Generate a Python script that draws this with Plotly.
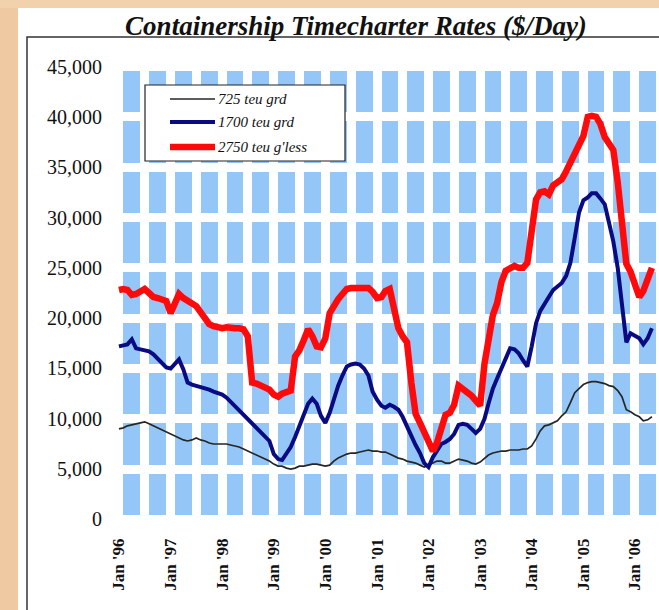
import pandas as pd
import plotly.graph_objects as go

# Monthly timecharter rates, Jan 1996 - May 2006 ($/day)
months = pd.date_range("1996-01-01", periods=125, freq="MS")

rate_725_grd = [
    9000, 9100, 9300, 9400, 9500, 9600, 9700, 9500, 9300, 9100, 8900, 8700,
    8500, 8300, 8100, 7900, 7800, 7900, 8100, 7900, 7800, 7600, 7500, 7500,
    7500, 7500, 7400, 7300, 7200, 7000, 6800, 6600, 6400, 6200, 6000, 5800,
    5500, 5300, 5300, 5100, 5000, 5100, 5300, 5300, 5400, 5500, 5500, 5400,
    5300, 5400, 5800, 6100, 6300, 6500, 6600, 6600, 6700, 6800, 6900, 6800,
    6800, 6700, 6700, 6500, 6300, 6100, 6000, 5800, 5700, 5600, 5400, 5200,
    5400, 5600, 5800, 5800, 5600, 5600, 5800, 6000, 5900, 5800, 5600, 5500,
    5700, 6100, 6400, 6600, 6700, 6800, 6800, 6900, 6900, 6900, 7000, 7000,
    7300, 8000, 8800, 9300, 9400, 9600, 9800, 10300, 10700, 11600, 12600, 13000,
    13400, 13600, 13700, 13700, 13600, 13500, 13300, 13200, 12800, 12200, 10900, 10700,
    10400, 10200, 9800, 9900, 10200,
]

rate_1700_grd = [
    17200, 17300, 17400, 17900, 17000, 16900, 16800, 16700, 16400, 16000, 15600, 15100,
    15000, 15500, 15900, 14900, 13600, 13400, 13300, 13200, 13000, 12900, 12700, 12600,
    12400, 12100, 11700, 11300, 10900, 10400, 10000, 9600, 9200, 8700, 8300, 7800,
    6500, 6000, 5900, 6500, 7200, 8200, 9200, 10400, 11500, 12000, 11500, 10300,
    9600, 10600, 12000, 13300, 14300, 15200, 15400, 15500, 15400, 15000, 14300, 12700,
    11900, 11300, 11100, 11400, 11200, 10900, 10200, 9200, 8300, 7400, 6600, 5600,
    5200, 6200, 6800, 7500, 7700, 8000, 8500, 9400, 9500, 9400, 9000, 8600,
    9000, 10000, 11500, 13000, 14000, 15000, 16200, 17000, 16900, 16500, 15800, 15200,
    17200, 19500, 20700, 21500, 22100, 22800, 23200, 23500, 24200, 25500, 28000, 30500,
    31700, 32000, 32400, 32400, 31900, 31300, 29500, 27600, 25000, 21500, 17600, 18500,
    18300, 18000, 17400, 18000, 19000,
]

rate_2750_gless = [
    22800, 22900, 22800, 22300, 22400, 22700, 22900, 22500, 22100, 22000, 21900, 21700,
    20500, 21600, 22400, 22000, 21700, 21400, 21200, 20600, 19900, 19400, 19200, 19100,
    19000, 19100, 19000, 19000, 19000, 18900, 18200, 13600, 13500, 13300, 13200, 12900,
    12400, 12200, 12500, 12600, 12800, 16200, 16800, 17800, 18900, 18200, 17200, 17100,
    18000, 20500, 21300, 21900, 22400, 22900, 23000, 23000, 22900, 23000, 23000, 22600,
    22000, 22100, 22700, 22900, 21000, 19000, 18200, 17600, 13600, 10500, 9600, 8700,
    7600, 6800, 7600, 8900, 10400, 10600, 11400, 13300, 13000, 12700, 12300, 11800,
    11300, 15500, 17900, 20300, 21500, 23600, 24700, 25000, 25200, 25000, 25000, 25500,
    28500, 31800, 32500, 32600, 32300, 33200, 33500, 33800, 34600, 35500, 36400, 37300,
    38100, 40000, 40100, 40000, 39300, 38000, 37400, 36700, 33500, 29500, 25400, 24600,
    23200, 22100, 22700, 24000, 25000,
]

series_names = ["725 teu grd", "1700 teu grd", "2750 teu g'less"]
series_values = [rate_725_grd, rate_1700_grd, rate_2750_gless]
series_colors = ["#262626", "#0A0A82", "#FF0A0A"]
series_widths = [1.7, 4, 6.5]

TITLE = "Containership Timecharter Rates ($/Day)"
SERIF = "Liberation Serif, Times New Roman, serif"

# Figure geometry (pixels)
W, H = 659, 610
ML, MR, MT, MB = 115, 3, 62, 86


def px_x(p):
    return (p - ML) / (W - ML - MR)


def px_y(p):
    return (H - MB - p) / (H - MT - MB)


fig = go.Figure()

for name, vals, color, width in zip(series_names, series_values, series_colors, series_widths):
    fig.add_trace(go.Scatter(
        x=months, y=vals, name=name, mode="lines",
        line=dict(color=color, width=width),
        showlegend=False,
    ))

shapes = [
    # slide background strips
    dict(type="rect", xref="paper", yref="paper", layer="below",
         x0=px_x(0), x1=px_x(18), y0=px_y(0), y1=px_y(H),
         fillcolor="#EEC9A2", line_width=0),
    dict(type="rect", xref="paper", yref="paper", layer="below",
         x0=px_x(0), x1=px_x(W), y0=px_y(0), y1=px_y(8),
         fillcolor="#F2D2AC", line_width=0),
    # chart frame under the title
    dict(type="rect", xref="paper", yref="paper", layer="above",
         x0=px_x(27), x1=px_x(W + 40), y0=px_y(37), y1=px_y(H + 40),
         fillcolor="rgba(0,0,0,0)", line=dict(color="#333333", width=1.5)),
    # legend box
    dict(type="rect", xref="paper", yref="paper", layer="above",
         x0=px_x(145), x1=px_x(345), y0=px_y(85), y1=px_y(161),
         fillcolor="white", line=dict(color="#222222", width=1.2)),
]

annotations = []
legend_rows = [99, 122, 147]
for name, color, width, row in zip(series_names, series_colors, series_widths, legend_rows):
    shapes.append(dict(type="line", xref="paper", yref="paper", layer="above",
                       x0=px_x(170), x1=px_x(215), y0=px_y(row), y1=px_y(row),
                       line=dict(color=color, width=width)))
    annotations.append(dict(text=name, xref="paper", yref="paper",
                            x=px_x(216), y=px_y(row), xanchor="left", yanchor="middle",
                            showarrow=False,
                            font=dict(family=SERIF, size=15, color="#111111", style="italic")))

fig.update_layout(
    width=W, height=H,
    margin=dict(l=ML, r=MR, t=MT, b=MB, pad=0),
    paper_bgcolor="white",
    plot_bgcolor="#94C6F8",
    title=dict(text=TITLE, x=356 / W, y=1 - 26 / H, xref="container", yref="container",
               xanchor="center", yanchor="middle",
               font=dict(family=SERIF, size=27, color="#111111", weight="bold", style="italic")),
    shapes=shapes,
    annotations=annotations,
    showlegend=False,
    xaxis=dict(
        type="date",
        range=["1995-12-04", "2006-05-30"],
        tick0="1996-01-01", dtick="M12",
        tickformat="%b '%y", tickangle=-90,
        showgrid=True, gridcolor="white", gridwidth=9,
        minor=dict(tick0="1996-01-01", dtick="M6", showgrid=True,
                   gridcolor="white", gridwidth=9),
        zeroline=False, showline=False, ticks="",
        ticklabelstandoff=10,
        tickfont=dict(family=SERIF, size=17, color="#111111", weight="bold"),
    ),
    yaxis=dict(
        range=[-450, 45450],
        tick0=0, dtick=5000, tickformat=",",
        showgrid=True, gridcolor="white", gridwidth=8.5,
        zeroline=False, showline=False, ticks="",
        ticklabelstandoff=12,
        tickfont=dict(family=SERIF, size=20, color="#111111"),
    ),
)

fig.write_html("out.html")
